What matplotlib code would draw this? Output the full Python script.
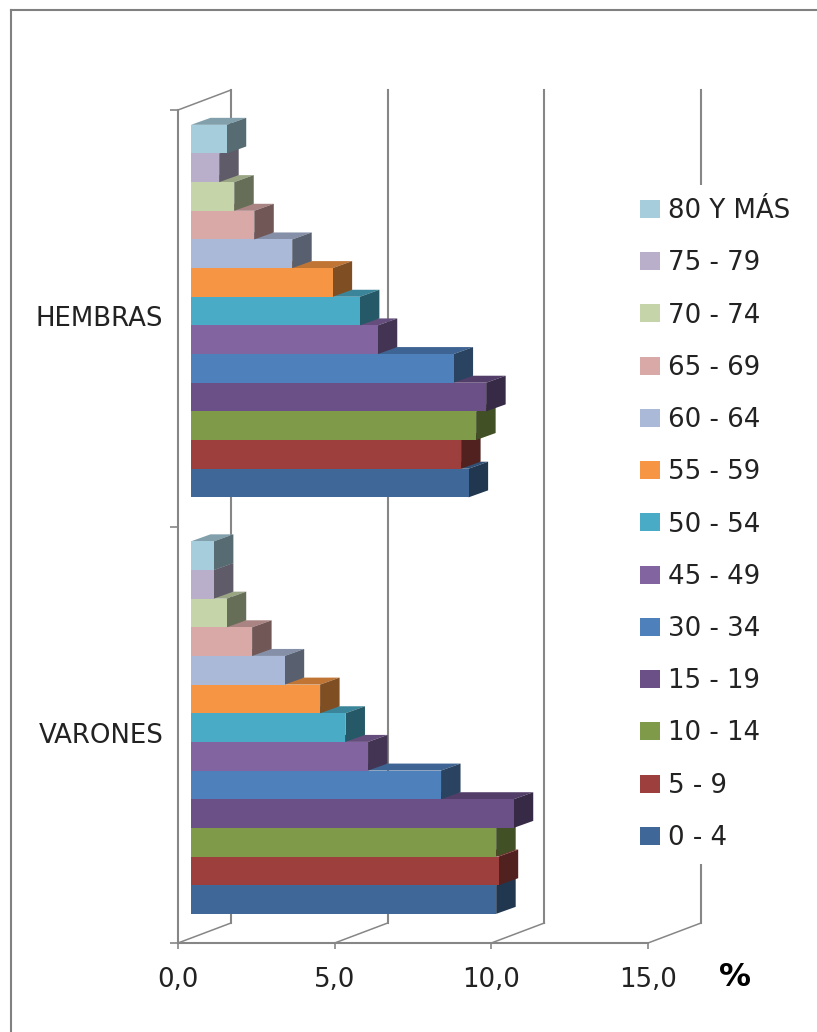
import matplotlib
matplotlib.use('Agg')
import matplotlib.pyplot as plt
from matplotlib.lines import Line2D
from matplotlib.patches import Patch
from matplotlib.colors import to_rgb

groups = ['VARONES', 'HEMBRAS']
ages = ['0 - 4', '5 - 9', '10 - 14', '15 - 19', '30 - 34', '45 - 49', '50 - 54',
        '55 - 59', '60 - 64', '65 - 69', '70 - 74', '75 - 79', '80 Y MÁS']
varones = [9.74, 9.82, 9.74, 10.3, 7.98, 5.65, 4.93, 4.12, 2.99, 1.95, 1.14, 0.73, 0.73]
hembras = [8.86, 8.62, 9.10, 9.42, 8.38, 5.96, 5.39, 4.52, 3.23, 2.02, 1.38, 0.90, 1.14]
colors = ['#3F6797', '#9C3F3D', '#7F9A49', '#6A5086', '#4E80BB', '#8264A0', '#4AABC6',
          '#F69644', '#AAB9D7', '#D9A9A8', '#C5D4A9', '#B9AFCA', '#A6CDDC']
xticks = [0, 5, 10, 15]
xticklabels = ['0,0', '5,0', '10,0', '15,0']

W, H = 817, 1032
PX_X = 470 / 15.0   # px per %
PX_Y = 833 / 2.0    # px per category

# fake 3d offsets, in data units
wall_dx, wall_dy = 53 / PX_X, 20 / PX_Y
bar_x0 = 13 / PX_X
bar_y0 = 0.07
bar_h = 0.0688
dep_x, dep_y = 19.5 / PX_X, 7 / PX_Y

GRID = '#868686'
TXT = '#222222'
FS = 18.7


def shade(c, f):
    return tuple(v * f for v in to_rgb(c))


fig = plt.figure(figsize=(W / 100, H / 100), dpi=100, facecolor='white')
ax = fig.add_axes([178 / W, 1 - 943 / H, 470 / W, 833 / H])
ax.set_xlim(0, 15)
ax.set_ylim(0, 2)
ax.patch.set_visible(False)

for s in ['top', 'right']:
    ax.spines[s].set_visible(False)
for s in ['left', 'bottom']:
    ax.spines[s].set_color(GRID)
    ax.spines[s].set_linewidth(1.5)

ax.set_xticks(xticks, labels=xticklabels)
ax.set_yticks([0, 1, 2], labels=['', '', ''])
ax.set_yticks([0.505, 1.505], labels=groups, minor=True)
ax.tick_params(axis='x', length=4, width=1.2, color=GRID, pad=13.5, labelsize=FS, labelcolor=TXT)
ax.tick_params(axis='y', which='major', length=6, width=1.2, color=GRID)
ax.tick_params(axis='y', which='minor', length=0, pad=10.5, labelsize=FS, labelcolor=TXT)

# walls
for x in xticks:
    ax.plot([x, x + wall_dx], [0, wall_dy], color=GRID, lw=1.1, clip_on=False, zorder=1)
    ax.plot([x + wall_dx, x + wall_dx], [wall_dy, 2 + wall_dy], color=GRID, lw=1.5,
            clip_on=False, zorder=1)
ax.plot([0, wall_dx], [2, 2 + wall_dy], color=GRID, lw=1.1, clip_on=False, zorder=1)

# bars, lowest first so the one above hides its top
z = 3
for g, vals in enumerate([varones, hembras]):
    for i, v in enumerate(vals):
        b = g + bar_y0 + i * bar_h
        t = b + bar_h
        r = bar_x0 + v
        ax.fill([bar_x0, r, r + dep_x, bar_x0 + dep_x], [t, t, t + dep_y, t + dep_y],
                color=shade(colors[i], 0.78), lw=0, clip_on=False, zorder=z)
        ax.fill([r, r + dep_x, r + dep_x, r], [b, b + dep_y, t + dep_y, t],
                color=shade(colors[i], 0.52), lw=0, clip_on=False, zorder=z)
        ax.barh(b, v, height=bar_h, left=bar_x0, align='edge', color=colors[i], lw=0,
                clip_on=False, zorder=z)
        z += 1

handles = [Patch(facecolor=c, edgecolor='none', label=a) for a, c in zip(ages, colors)]
leg = ax.legend(handles=handles[::-1], loc='center left',
                bbox_to_anchor=(627 / W, 1 - 524.5 / H), bbox_transform=fig.transFigure,
                fontsize=FS, labelcolor=TXT, frameon=True, facecolor='white', edgecolor='none',
                framealpha=1, fancybox=False, borderpad=0.5, borderaxespad=0,
                handlelength=0.77, handleheight=0.69, handletextpad=0.31, labelspacing=1.01)
leg.set_zorder(50)

ax.text(735 / PX_X - 178 / PX_X, (943 - 977) / PX_Y, '%', fontsize=23, fontweight='bold',
        color='black', ha='center', va='center', clip_on=False)

# picture frame
fig.add_artist(Line2D([11 / W, 11 / W], [0, 1 - 10 / H], color='#808080', lw=1.5))
fig.add_artist(Line2D([11 / W, 1], [1 - 10 / H, 1 - 10 / H], color='#808080', lw=1.5))

fig.savefig('out.png', dpi=100, facecolor='white')
